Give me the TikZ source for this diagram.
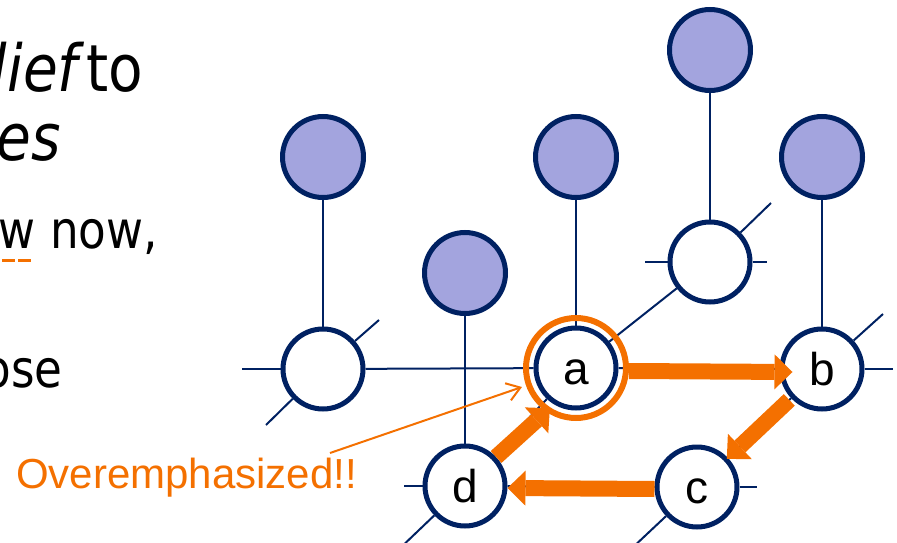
\documentclass[tikz,border=0pt]{standalone}
\usepackage{fontspec}
\setmainfont{Liberation Sans}
\newfontfamily\slidefont{DejaVu Sans}[FakeStretch=0.87]
\usetikzlibrary{arrows.meta,calc}
\definecolor{navy}{RGB}{0,33,98}
\definecolor{lilac}{RGB}{163,164,222}
\definecolor{orng}{RGB}{244,112,0}
\begin{document}
\begin{tikzpicture}[x=1pt,y=-1pt,
  obs/.style={circle,draw=navy,fill=lilac,line width=5pt,minimum size=81pt,inner sep=0pt},
  hid/.style={circle,draw=navy,fill=white,line width=5pt,minimum size=80pt,inner sep=0pt,
     font=\fontsize{46}{50}\selectfont,text height=33pt,text depth=0pt},
  link/.style={draw=navy,line width=2pt},
  hot/.style={draw=orng,line width=16pt,-{Triangle[length=18pt,width=35pt,line width=0pt]}},
  ringstyle/.style={circle,draw=orng,line width=6pt,minimum size=100pt,inner sep=0pt},
  bigtext/.style={anchor=base east,inner sep=0pt,font=\slidefont\fontsize{65}{70}\selectfont},
  midtext/.style={anchor=base east,inner sep=0pt,font=\slidefont\fontsize{52}{60}\selectfont},
  notetext/.style={anchor=base west,inner sep=0pt,text=orng,font=\fontsize{42}{46}\selectfont},
  notearrow/.style={draw=orng,line width=2pt,-{Straight Barb[length=13pt,width=18pt]}}
]
\useasboundingbox (0,0) rectangle (897,543);
\clip (0,0) rectangle (897,543);

% nodes
\node[obs] (o1) at (323,157) {};
\node[hid] (L)  at (323,369) {};
\node[obs] (o2) at (576,157) {};
\node[hid] (a)  at (576,368) {a};
\node[obs] (o3) at (465,273) {};
\node[hid] (d)  at (465,486) {d};
\node[obs] (o4) at (710,50) {};
\node[hid] (T)  at (710,262) {};
\node[obs] (o5) at (822,157) {};
\node[hid] (b)  at (822,369) {b};
\node[hid] (c)  at (697,487) {c};

% free ends
\coordinate (Lw) at (242,369);
\coordinate (Lne) at (379,320);
\coordinate (Lsw) at (266,425);
\coordinate (Tw) at (645,262);
\coordinate (Te) at (767,262);
\coordinate (Tne) at (771,203);
\coordinate (be) at (893,369);
\coordinate (bne) at (883,314);
\coordinate (ce) at (757,487);
\coordinate (csw) at (630,550);
\coordinate (dw) at (404,486);
\coordinate (dsw) at (395,553);

% links
\draw[link] (o1) -- (L);
\draw[link] (o2) -- (a);
\draw[link] (o3) -- (d);
\draw[link] (o4) -- (T);
\draw[link] (o5) -- (b);
\draw[link] (L) -- (a);
\draw[link] (a) -- (b);
\draw[link] (d) -- (c);
\draw[link] (a) -- (T);
\draw[link] (b) -- (c);
\draw[link] (d) -- (a);
\draw[link] (L) -- (Lw);
\draw[link] (L) -- (Lne);
\draw[link] (L) -- (Lsw);
\draw[link] (T) -- (Tw);
\draw[link] (T) -- (Te);
\draw[link] (T) -- (Tne);
\draw[link] (b) -- (be);
\draw[link] (b) -- (bne);
\draw[link] (c) -- (ce);
\draw[link] (c) -- (csw);
\draw[link] (d) -- (dw);
\draw[link] (d) -- (dsw);

% emphasis ring
\node[ringstyle] (ring) at (a) {};

% message arrows
\draw[hot] ([yshift=-3pt]ring.east) -- ([shift={(13pt,-3pt)}]b.west);
\draw[hot] ($(b)!45pt!(c)$) -- ($(c)!41pt!(b)$);
\draw[hot] ([yshift=-2pt]c.west) -- ([yshift=-2pt]d.east);
\draw[hot] (d.43) -- ($(a)+(237:48pt)$);

% annotation
\node[notetext] (note) at (16,488) {Overemphasized!!};
\coordinate (ns) at (330,453);
\coordinate (nt) at (522,387);
\draw[notearrow] (ns) -- (nt);

% clipped slide text
\node[bigtext,font=\slidefont\itshape\fontsize{65}{70}\selectfont] (t1) at (78,92) {lief};
\node[bigtext] (t2) at (143,92) {to};
\node[bigtext,font=\slidefont\itshape\fontsize{65}{70}\selectfont] (t3) at (61,160) {es};
\node[midtext] (t4) at (158,248) {w now,};
\node[midtext] (t5) at (63,387) {ose};
\draw[orng,line width=3pt,dash pattern=on 13pt off 3pt] (2,260) -- (31,260);
\end{tikzpicture}
\end{document}
